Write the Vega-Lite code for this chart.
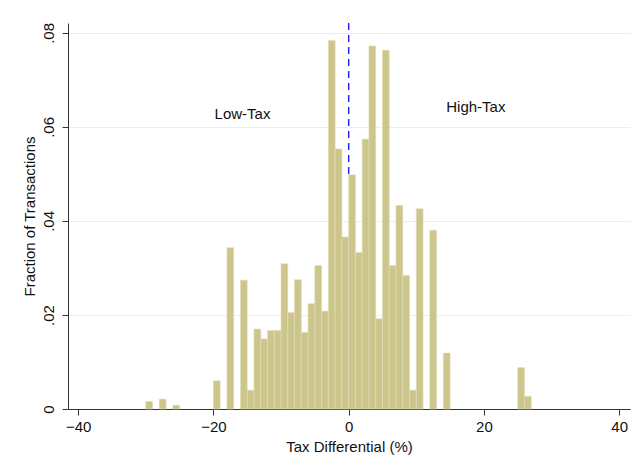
{
  "$schema": "https://vega.github.io/schema/vega-lite/v6.json",
  "width": 562,
  "height": 386,
  "autosize": {"type": "none"},
  "padding": {"left": 68, "top": 23, "right": 12, "bottom": 60},
  "background": "white",
  "config": {
    "view": {"stroke": null},
    "font": "Liberation Sans",
    "axis": {
      "labelFont": "Liberation Sans",
      "titleFont": "Liberation Sans",
      "labelFontSize": 15,
      "titleFontSize": 15,
      "titleFontWeight": "normal",
      "labelColor": "#111",
      "titleColor": "#111",
      "domainColor": "#333",
      "tickColor": "#333",
      "tickSize": 6,
      "gridColor": "#e6eff1",
      "gridWidth": 1.2
    }
  },
  "datasets": {
    "bins": [
      {"lo": -30, "hi": -29, "frac": 0.0016},
      {"lo": -28, "hi": -27, "frac": 0.0021},
      {"lo": -26, "hi": -25, "frac": 0.0008},
      {"lo": -20, "hi": -19, "frac": 0.006},
      {"lo": -18, "hi": -17, "frac": 0.0343},
      {"lo": -16, "hi": -15, "frac": 0.0274},
      {"lo": -15, "hi": -14, "frac": 0.004},
      {"lo": -14, "hi": -13, "frac": 0.017},
      {"lo": -13, "hi": -12, "frac": 0.0149},
      {"lo": -12, "hi": -11, "frac": 0.0167},
      {"lo": -11, "hi": -10, "frac": 0.0167},
      {"lo": -10, "hi": -9, "frac": 0.0309},
      {"lo": -9, "hi": -8, "frac": 0.0205},
      {"lo": -8, "hi": -7, "frac": 0.0275},
      {"lo": -7, "hi": -6, "frac": 0.0163},
      {"lo": -6, "hi": -5, "frac": 0.0224},
      {"lo": -5, "hi": -4, "frac": 0.0305},
      {"lo": -4, "hi": -3, "frac": 0.0208},
      {"lo": -3, "hi": -2, "frac": 0.0784},
      {"lo": -2, "hi": -1, "frac": 0.0553},
      {"lo": -1, "hi": 0, "frac": 0.0366},
      {"lo": 0, "hi": 1, "frac": 0.0498},
      {"lo": 1, "hi": 2, "frac": 0.0333},
      {"lo": 2, "hi": 3, "frac": 0.0574},
      {"lo": 3, "hi": 4, "frac": 0.0772},
      {"lo": 4, "hi": 5, "frac": 0.0192},
      {"lo": 5, "hi": 6, "frac": 0.0763},
      {"lo": 6, "hi": 7, "frac": 0.0305},
      {"lo": 7, "hi": 8, "frac": 0.0433},
      {"lo": 8, "hi": 9, "frac": 0.0284},
      {"lo": 9, "hi": 10, "frac": 0.004},
      {"lo": 10, "hi": 11, "frac": 0.0426},
      {"lo": 12, "hi": 13, "frac": 0.038},
      {"lo": 14, "hi": 15, "frac": 0.0119},
      {"lo": 25, "hi": 26, "frac": 0.0088},
      {"lo": 26, "hi": 27, "frac": 0.0027}
    ],
    "cutoff": [{"x": 0, "y": 0.05, "y2": 0.0821}],
    "labels": [
      {"x": -15.7, "y": 0.0627, "label": "Low-Tax"},
      {"x": 18.8, "y": 0.0642, "label": "High-Tax"}
    ]
  },
  "layer": [
    {
      "data": {"name": "bins"},
      "mark": {"type": "rect", "fill": "#cdc68c", "stroke": "#e0dcb4", "strokeWidth": 0.6},
      "encoding": {
        "x": {
          "field": "lo", "type": "quantitative",
          "scale": {"domain": [-41.5, 41.6], "nice": false, "zero": false},
          "axis": {"values": [-40, -20, 0, 20, 40], "grid": false, "title": "Tax Differential (%)", "labelPadding": 4, "titlePadding": 5, "labelFlush": false}
        },
        "x2": {"field": "hi"},
        "y": {
          "field": "frac", "type": "quantitative",
          "scale": {"domain": [0, 0.0821], "nice": false},
          "axis": {
            "values": [0, 0.02, 0.04, 0.06, 0.08],
            "grid": true,
            "title": "Fraction of Transactions",
            "labelAngle": -90,
            "labelAlign": "center",
            "labelBaseline": "bottom",
            "labelPadding": 6,
            "titlePadding": 4,
            "labelFlush": false,
            "labelExpr": "datum.value == 0 ? '0' : replace(format(datum.value, '.2f'), '0.', '.')"
          }
        },
        "y2": {"datum": 0}
      }
    },
    {
      "data": {"name": "cutoff"},
      "mark": {"type": "rule", "color": "#1a1aff", "strokeDash": [7, 5], "strokeWidth": 1.4},
      "encoding": {
        "x": {"field": "x", "type": "quantitative"},
        "y": {"field": "y", "type": "quantitative"},
        "y2": {"field": "y2"}
      }
    },
    {
      "data": {"name": "labels"},
      "mark": {"type": "text", "fontSize": 15, "font": "Liberation Sans", "color": "#111", "align": "center", "baseline": "middle"},
      "encoding": {
        "x": {"field": "x", "type": "quantitative"},
        "y": {"field": "y", "type": "quantitative"},
        "text": {"field": "label"}
      }
    }
  ]
}
